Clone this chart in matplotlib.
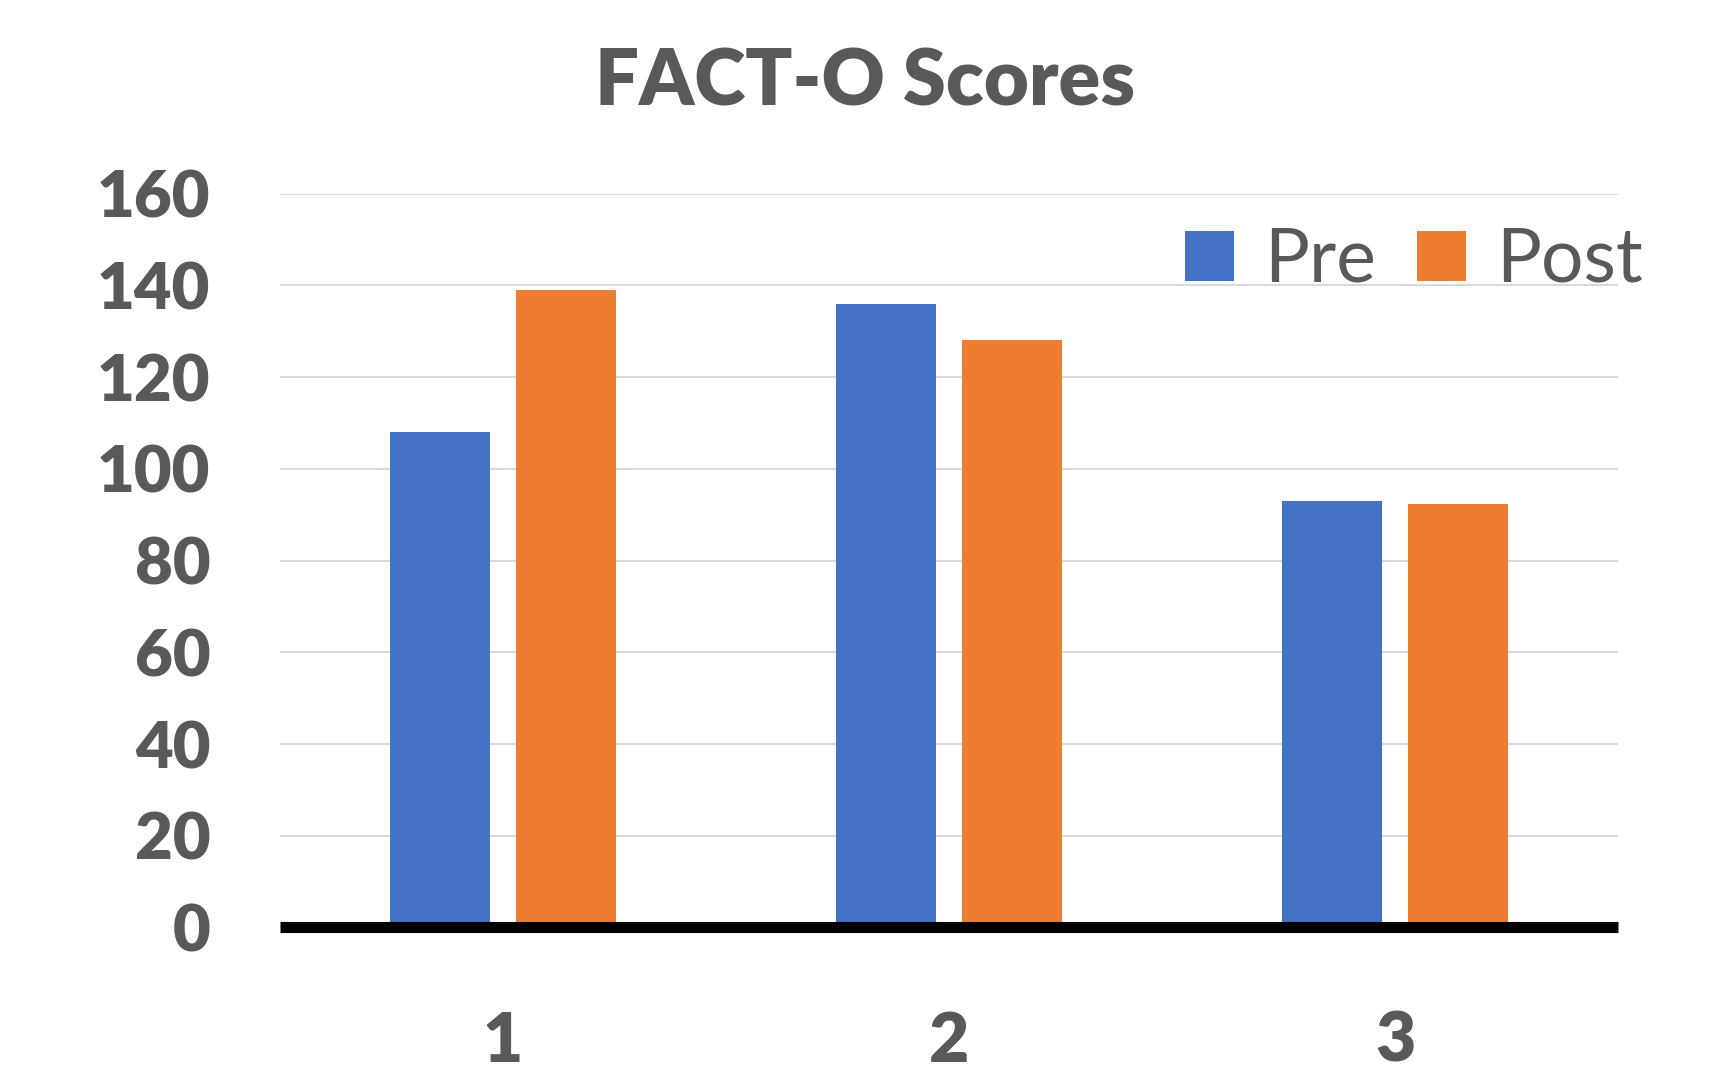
import matplotlib.pyplot as plt
import numpy as np

plt.rcParams['font.family'] = ['Lato', 'DejaVu Sans']

# FACT-O scores per patient, before and after
patients = ['1', '2', '3']
pre = [108, 136, 93]
post = [139, 128, 92.4]
yticks = [0, 20, 40, 60, 80, 100, 120, 140, 160]

grey = '#595959'
blue = '#4472C4'
orange = '#ED7D31'

fig = plt.figure(figsize=(17.27, 10.72), dpi=100)
ax = fig.add_axes([0.1621, 0.1348, 0.7748, 0.6845])

x = np.arange(len(patients))
w = 0.224
ax.bar(x - 0.141, pre, w, color=blue, label='Pre', zorder=3)
ax.bar(x + 0.141, post, w, color=orange, label='Post', zorder=3)

ax.set_xlim(-0.5, 2.5)
ax.set_ylim(0, 160)
ax.set_xticks(x)
ax.set_xticklabels(patients)
ax.set_yticks(yticks)
ax.grid(axis='y', color='#D9D9D9', linewidth=1.5, zorder=0)
ax.set_axisbelow(True)

for s in ['top', 'right', 'left']:
    ax.spines[s].set_visible(False)
ax.spines['bottom'].set_linewidth(8)
ax.spines['bottom'].set_color('black')
ax.spines['bottom'].set_capstyle('butt')
ax.spines['bottom'].set_zorder(4)

ax.tick_params(axis='both', length=0, labelcolor=grey, labelsize=47)
ax.tick_params(axis='y', pad=50)
ax.tick_params(axis='x', labelsize=50, pad=60)
for t in ax.get_xticklabels() + ax.get_yticklabels():
    t.set_fontweight('heavy')

fig.text(0.501, 0.923, 'FACT-O Scores', ha='center', va='center',
         fontsize=56, fontweight='heavy', color=grey)

ax.legend(loc='center right', bbox_to_anchor=(0.973, 0.757),
          bbox_transform=fig.transFigure, ncol=2, frameon=False,
          fontsize=54, labelcolor=grey, handlelength=0.65, handleheight=0.65,
          handletextpad=0.4, columnspacing=0.55, borderpad=0)

fig.savefig('out.png', dpi=100)
